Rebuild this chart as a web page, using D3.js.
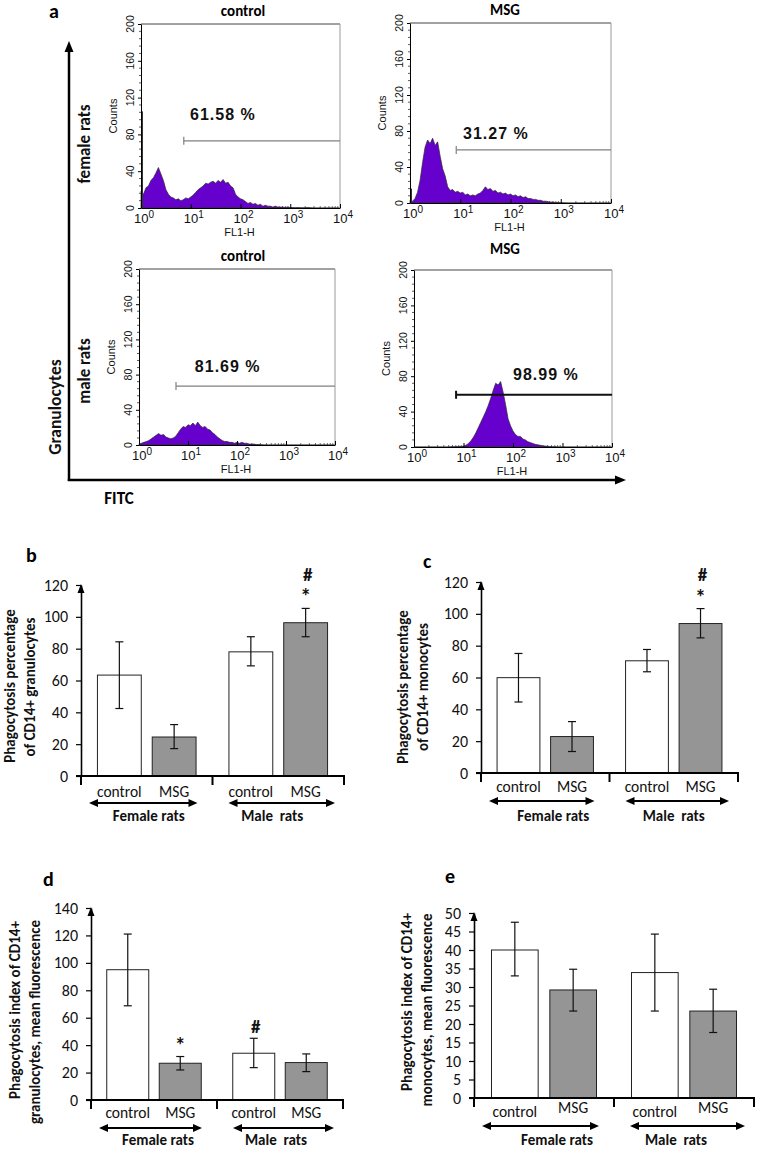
<!DOCTYPE html>
<html><head><meta charset="utf-8">
<script src="https://cdn.jsdelivr.net/npm/d3@7"></script>
<style>body{margin:0;background:#fff}svg{display:block}</style>
</head><body>
<svg id="chart" width="757" height="1150"></svg>
<script>
// ================= DATA =================
// Panel a: flow-cytometry histograms (FL1-H, log scale), counts per log10 bin
const histLogBins = d3.range(81).map(i => i * 0.05);
const histFemaleControl = [18,15,22,24,30,33,38,44,37,30, 20,15,12,11,9,10,8,9,11,10,
  12,14,17,20,22,24,27,26,28,29, 27,30,28,31,27,28,24,22,15,12,
  10,9,7,5,6,4,5,3,4,2, 3,2,2,1,2,1,1,1,0.5,1,
  0.5,0.5,0.3,0.5,0.3,0.2,0.2,0.5,0.2,0.1, 0,0,0,0,0,0,0,0,0,0,0];
const histFemaleMSG = [3,2,5,12,25,45,62,70,66,72, 64,68,52,38,30,18,14,15,12,13,
  11,12,9,10,8,9,8,10,11,14, 18,15,16,13,14,11,12,10,11,9,
  10,8,9,7,8,6,7,5,5,4, 4,3,3,2,2,1.5,1,1,0.5,0.5,
  0.3,0.2,0.1,0,0,0,0,0,0,0, 0,0,0,0,0,0,0,0,0,0,0];
const histMaleControl = [1,2,3,4,5,7,9,11,13,11, 12,9,8,7,8,10,14,18,21,20,
  23,22,25,22,26,22,20,21,18,17, 14,12,9,7,5,4,4,3,3,2,
  3,2,3,2,2,1,1,1,0.5,0.5, 0.2,0,0,0,0,0,0,0,0,0,
  0,0,0,0,0,0,0,0,0,0, 0,0,0,0,0,0,0,0,0,0,0];
const histMaleMSG = [0,0,0,0,0,0,0,0,0,0, 0,0,0,0,0,0.2,0.3,0.3,0.5,0.5,
  1,2,4,7,11,16,22,28,34,40, 47,55,64,72,70,74,62,48,32,24,
  18,14,12,12,9,8,6,5,4,3, 2.5,2,1.5,1,0.8,0.5,0.3,0.2,0,0,
  0,0,0,0,0,0,0,0,0,0, 0,0,0,0,0,0,0,0,0,0,0];
const histFirstBinSpike = [105, 16, 0, 0];
const histTitles = ["control", "MSG", "control", "MSG"];
const gatePercents = ["61.58 %", "31.27 %", "81.69 %", "98.99 %"];
const gateStartLog = [0.86, 0.92, 0.755, 0.85];
const gateLevelCount = [73, 59, 67, 59];
const countTicks = [0, 40, 80, 120, 160, 200];
const decadeTicks = [1, 10, 100, 1000, 10000];
const decadeExponents = ["0", "1", "2", "3", "4"];

// Panels b-e: bar charts
const groups = ["Female rats", "Male  rats"];
const treatments = ["control", "MSG"];
// order: female control, female MSG, male control, male MSG
const granPercentMean = [63.4, 24.5, 78, 96.3];
const granPercentLo   = [42.4, 17.2, 69.2, 87.5];
const granPercentHi   = [84.3, 32.3, 87.5, 105.3];
const granPercentMarks = ["", "", "", "*#"];

const monoPercentMean = [59.9, 22.9, 70.5, 93.9];
const monoPercentLo   = [44.6, 13.5, 63.6, 84.9];
const monoPercentHi   = [75.1, 32.3, 77.6, 103.3];
const monoPercentMarks = ["", "", "", "*#"];

const granIndexMean = [95, 26.8, 34.1, 27.3];
const granIndexLo   = [68.7, 21.9, 23.6, 20.7];
const granIndexHi   = [121, 31.7, 45, 33.6];
const granIndexMarks = ["", "*", "#", ""];

const monoIndexMean = [40.0, 29.2, 33.9, 23.5];
const monoIndexLo   = [33.0, 23.5, 23.5, 17.7];
const monoIndexHi   = [47.5, 34.8, 44.3, 29.4];
const monoIndexMarks = ["", "", "", ""];

const titleB = ["Phagocytosis percentage", "of CD14+ granulocytes"];
const titleC = ["Phagocytosis percentage", "of CD14+ monocytes"];
const titleD = ["Phagocytosis index of CD14+", "granulocytes, mean fluorescence"];
const titleE = ["Phagocytosis index of CD14+", "monocytes, mean fluorescence"];

// ================= DRAWING =================
const svg = d3.select("#chart");
const SANS = "Carlito, Lato, 'Open Sans', sans-serif";
const ARIAL = "'Liberation Sans', Arial, sans-serif";

function arrowHead(g, x, y, dir, len, half) {
  let pts;
  if (dir === "up") pts = [[x, y], [x - half, y + len], [x + half, y + len]];
  if (dir === "right") pts = [[x, y], [x - len, y - half], [x - len, y + half]];
  if (dir === "left") pts = [[x, y], [x + len, y - half], [x + len, y + half]];
  g.append("path").attr("d", d3.line()(pts) + "Z").attr("fill", "#000");
}

// ---------- Panel a ----------
const ga = svg.append("g");
ga.append("text").attr("x", 49).attr("y", 18).text("a")
  .attr("font-family", SANS).attr("font-weight", "bold").attr("font-size", 20);
ga.append("line").attr("x1", 69).attr("y1", 481).attr("x2", 69).attr("y2", 50)
  .attr("stroke", "#000").attr("stroke-width", 2.5);
arrowHead(ga, 69, 41, "up", 11, 4.5);
ga.append("line").attr("x1", 67.8).attr("y1", 480).attr("x2", 616).attr("y2", 480)
  .attr("stroke", "#000").attr("stroke-width", 2.5);
arrowHead(ga, 626, 480, "right", 11, 4.5);

function vText(g, x, y, txt, size, weight, family) {
  g.append("text").attr("transform", `translate(${x},${y}) rotate(-90)`)
    .attr("text-anchor", "middle").attr("dominant-baseline", "central")
    .attr("font-family", family || SANS).attr("font-weight", weight || "normal")
    .attr("font-size", size).attr("fill", "#111").text(txt);
}
vText(ga, 84, 144, "female rats", 17, "bold");
vText(ga, 84, 371, "male rats", 17, "bold");
vText(ga, 55, 407, "Granulocytes", 17.5, "bold");
ga.append("text").attr("x", 119).attr("y", 504).attr("text-anchor", "middle")
  .attr("font-family", SANS).attr("font-weight", "bold").attr("font-size", 17).text("FITC");

const histBoxes = [
  {l: 141, r: 340, t: 24, b: 208, flDy: 28},
  {l: 410, r: 611, t: 23, b: 203, flDy: 28},
  {l: 139, r: 335, t: 269, b: 445, flDy: 28},
  {l: 414, r: 612, t: 270, b: 447, flDy: 28}
];
const histTitleX = [243, 505, 243, 505];
const histTitleY = [16, 15, 261, 254];
const pctLabelLog = [0.985, 1.055, 1.14, 2.0];
const pctLabelCount = [96, 71, 83, 76];
const histCounts = [histFemaleControl, histFemaleMSG, histMaleControl, histMaleMSG];

function drawHist(k) {
  const box = histBoxes[k];
  const g = svg.append("g");
  const x = d3.scaleLog().domain([1, 1e4]).range([box.l, box.r]);
  const y = d3.scaleLinear().domain([0, 200]).range([box.b, box.t]);
  const data = histLogBins.map((lg, i) => ({v: Math.pow(10, lg), c: histCounts[k][i]}));
  const area = d3.area().x(d => x(d.v)).y0(y(0)).y1(d => y(d.c));
  g.append("path").datum(data).attr("d", area)
    .attr("fill", "#6600cc").attr("stroke", "#2b2b2b").attr("stroke-width", 0.7);
  if (histFirstBinSpike[k] > 0) {
    g.append("line").attr("x1", x(1) + 1.5).attr("x2", x(1) + 1.5)
      .attr("y1", y(0)).attr("y2", y(histFirstBinSpike[k]))
      .attr("stroke", "#333").attr("stroke-width", 1);
  }
  // frame top/right
  g.append("line").attr("x1", box.l).attr("x2", box.r).attr("y1", box.t).attr("y2", box.t)
    .attr("stroke", "#444").attr("stroke-width", 1);
  g.append("line").attr("x1", box.r).attr("x2", box.r).attr("y1", box.t).attr("y2", box.b)
    .attr("stroke", "#999").attr("stroke-width", 1);
  // y axis
  const ya = g.append("g").attr("transform", `translate(${box.l},0)`)
    .call(d3.axisLeft(y).tickValues(countTicks).tickSize(3).tickFormat("").tickSizeOuter(0));
  ya.select(".domain").attr("stroke", "#000");
  const minorY = d3.range(0, 201, 8).filter(v => v % 40 !== 0);
  g.selectAll(".mny").data(minorY).join("line")
    .attr("x1", box.l - 2).attr("x2", box.l).attr("y1", d => y(d)).attr("y2", d => y(d))
    .attr("stroke", "#333").attr("stroke-width", 0.8);
  countTicks.forEach(v => vText(g, box.l - 11, y(v), String(v), 10.5, "normal", ARIAL));
  vText(g, box.l - 28, (box.t + box.b) / 2, "Counts", 11, "normal", ARIAL);
  // x axis
  const xa = g.append("g").attr("transform", `translate(0,${box.b})`)
    .call(d3.axisBottom(x).tickValues(decadeTicks).tickSize(-4).tickFormat("").tickSizeOuter(0));
  xa.select(".domain").attr("stroke", "#000");
  const minorX = [];
  decadeTicks.slice(0, 4).forEach(d => { for (let m = 2; m <= 9; m++) minorX.push(d * m); });
  g.selectAll(".mnx").data(minorX).join("line")
    .attr("x1", d => x(d)).attr("x2", d => x(d)).attr("y1", box.b).attr("y2", box.b - 2)
    .attr("stroke", "#333").attr("stroke-width", 0.7);
  decadeTicks.forEach((v, i) => {
    const t = g.append("text").attr("x", x(v) + 3).attr("y", box.b + 15).attr("text-anchor", "middle")
      .attr("font-family", ARIAL).attr("font-size", 13).attr("fill", "#111");
    t.append("tspan").text("10");
    t.append("tspan").attr("dy", -5).attr("font-size", 10).text(decadeExponents[i]);
  });
  g.append("text").attr("x", (box.l + box.r) / 2 - 1).attr("y", box.b + box.flDy)
    .attr("text-anchor", "middle").attr("font-family", ARIAL).attr("font-size", 11)
    .attr("fill", "#111").text("FL1-H");
  // title
  g.append("text").attr("x", histTitleX[k]).attr("y", histTitleY[k]).attr("text-anchor", "middle")
    .attr("font-family", SANS).attr("font-weight", "bold").attr("font-size", 15).text(histTitles[k]);
  // gate marker
  const gx0 = x(Math.pow(10, gateStartLog[k])), gy = y(gateLevelCount[k]);
  const dark = k === 3;
  g.append("line").attr("x1", gx0).attr("x2", box.r).attr("y1", gy).attr("y2", gy)
    .attr("stroke", dark ? "#111" : "#808080").attr("stroke-width", dark ? 2 : 1.2);
  g.append("line").attr("x1", gx0).attr("x2", gx0).attr("y1", gy - 4).attr("y2", gy + 4)
    .attr("stroke", dark ? "#111" : "#808080").attr("stroke-width", dark ? 2 : 1.2);
  g.append("text").attr("x", x(Math.pow(10, pctLabelLog[k]))).attr("y", y(pctLabelCount[k]))
    .attr("font-family", ARIAL).attr("font-weight", "bold").attr("font-size", 16)
    .attr("letter-spacing", 1).attr("fill", "#111").text(gatePercents[k]);
}
[0, 1, 2, 3].forEach(drawHist);

// ---------- Bar panels ----------
function barPanel(letter, cfg, title, mean, lo, hi, marks) {
  const g = svg.append("g");
  const y = d3.scaleLinear().domain([0, cfg.max]).range([cfg.yb, cfg.yt]);
  const gx = d3.scaleBand().domain(groups).range([cfg.x0, cfg.x1]);
  const tx = d3.scaleBand().domain(treatments).range([0, gx.bandwidth()])
    .paddingInner(0.2).paddingOuter(0.3);
  const rows = mean.map((m, i) => ({
    g: groups[Math.floor(i / 2)], t: treatments[i % 2], m, lo: lo[i], hi: hi[i], mark: marks[i]
  }));
  const cx = d => gx(d.g) + tx(d.t) + tx.bandwidth() / 2;

  g.selectAll("rect.bar").data(rows).join("rect").attr("class", "bar")
    .attr("x", d => gx(d.g) + tx(d.t)).attr("width", tx.bandwidth())
    .attr("y", d => y(d.m)).attr("height", d => y(0) - y(d.m))
    .attr("fill", d => d.t === "control" ? "#ffffff" : "#959595")
    .attr("stroke", "#222").attr("stroke-width", 1);
  // error bars
  g.selectAll("line.eb").data(rows).join("line").attr("class", "eb")
    .attr("x1", cx).attr("x2", cx).attr("y1", d => y(d.lo)).attr("y2", d => y(d.hi))
    .attr("stroke", "#111").attr("stroke-width", 1.2);
  ["lo", "hi"].forEach(key => {
    g.selectAll("line.cap" + key).data(rows).join("line").attr("class", "cap" + key)
      .attr("x1", d => cx(d) - 4).attr("x2", d => cx(d) + 4)
      .attr("y1", d => y(d[key])).attr("y2", d => y(d[key]))
      .attr("stroke", "#111").attr("stroke-width", 1.2);
  });
  // significance marks
  rows.forEach(d => {
    let off = 0;
    d.mark.split("").forEach((ch, j) => {
      off += (j === 0) ? (ch === "*" ? 15 : 12) : 19;
      const cy = y(d.hi) - off;
      g.append("text").attr("x", cx(d) + (ch === "#" ? 2 : 0))
        .attr("y", ch === "*" ? cy + 11 : cy + 6.5).attr("text-anchor", "middle")
        .attr("font-family", SANS).attr("font-weight", "bold")
        .attr("font-size", ch === "*" ? 22 : 19).attr("fill", "#111").text(ch);
    });
  });
  // y axis
  const ya = g.append("g").attr("transform", `translate(${cfg.x0},0)`)
    .call(d3.axisLeft(y).tickValues(d3.range(0, cfg.max + 0.001, cfg.step))
      .tickSize(5).tickPadding(8).tickSizeOuter(0));
  ya.select(".domain").attr("stroke", "#000").attr("stroke-width", 1.6);
  ya.selectAll(".tick line").attr("stroke", "#000").attr("stroke-width", 1.2);
  ya.selectAll(".tick text").attr("font-family", SANS).attr("font-size", 16).attr("fill", "#111");
  arrowHead(g, cfg.x0, cfg.yt - 1, "up", 9, 3.5);
  // x axis
  g.append("line").attr("x1", cfg.x0 - 5).attr("x2", cfg.x1 + 1).attr("y1", cfg.yb).attr("y2", cfg.yb)
    .attr("stroke", "#000").attr("stroke-width", 2);
  const bounds = [cfg.x0, gx(groups[1]), cfg.x1];
  g.selectAll("line.xt").data(bounds).join("line").attr("class", "xt")
    .attr("x1", d => d).attr("x2", d => d).attr("y1", cfg.yb).attr("y2", cfg.yb + 9)
    .attr("stroke", "#000").attr("stroke-width", 2);
  // treatment labels
  g.selectAll("text.tl").data(rows).join("text").attr("class", "tl")
    .attr("x", cx).attr("y", d => cfg.yb + cfg.labDy + (d.t === "MSG" ? cfg.msgDy : 0))
    .attr("text-anchor", "middle").attr("font-family", SANS).attr("font-size", 15.5)
    .attr("fill", "#111").text(d => d.t);
  // group arrows & labels
  groups.forEach((grp, i) => {
    const a0 = gx(grp) + (i === 0 ? 8 : 16), a1 = gx(grp) + gx.bandwidth() - (i === 0 ? 15 : 9);
    const ay = cfg.yb + cfg.arrDy;
    g.append("line").attr("x1", a0 + 6).attr("x2", a1 - 6).attr("y1", ay).attr("y2", ay)
      .attr("stroke", "#000").attr("stroke-width", 2);
    arrowHead(g, a0, ay, "left", 9, 4);
    arrowHead(g, a1, ay, "right", 9, 4);
    g.append("text").attr("x", gx(grp) + gx.bandwidth() / 2 + cfg.grpDx[i]).attr("y", cfg.yb + cfg.grpDy)
      .attr("text-anchor", "middle").attr("font-family", SANS).attr("font-weight", "bold")
      .attr("font-size", 15).attr("fill", "#111").attr("xml:space", "preserve").text(grp);
  });
  // panel letter
  g.append("text").attr("x", cfg.letterX).attr("y", cfg.letterY).attr("font-family", SANS)
    .attr("font-weight", "bold").attr("font-size", 20).text(letter);
  // y title
  title.forEach((line, i) => vText(g, cfg.titleX[i], cfg.titleY[i], line, 15, "bold"));
}

barPanel("b", {x0: 81, x1: 344, yb: 776, yt: 585, max: 120, step: 20, letterX: 26, letterY: 562,
  titleX: [10, 30], titleY: [686, 687], labDy: 21, msgDy: 0, arrDy: 27, grpDy: 45, grpDx: [2, -6]},
  titleB, granPercentMean, granPercentLo, granPercentHi, granPercentMarks);
barPanel("c", {x0: 481, x1: 738, yb: 773, yt: 582, max: 120, step: 20, letterX: 423, letterY: 568,
  titleX: [403, 423], titleY: [687, 687], labDy: 19, msgDy: 0, arrDy: 28, grpDy: 48, grpDx: [8, 0]},
  titleC, monoPercentMean, monoPercentLo, monoPercentHi, monoPercentMarks);
barPanel("d", {x0: 91, x1: 343, yb: 1100, yt: 908, max: 140, step: 20, letterX: 43, letterY: 886,
  titleX: [15, 35], titleY: [1010, 1022], labDy: 18, msgDy: 0, arrDy: 28, grpDy: 45, grpDx: [4, -4]},
  titleD, granIndexMean, granIndexLo, granIndexHi, granIndexMarks);
barPanel("e", {x0: 474, x1: 754, yb: 1098, yt: 913, max: 50, step: 5, letterX: 445, letterY: 883,
  titleX: [407, 427], titleY: [1002, 1010], labDy: 19, msgDy: -4, arrDy: 28, grpDy: 47, grpDx: [13, -8]},
  titleE, monoIndexMean, monoIndexLo, monoIndexHi, monoIndexMarks);
</script>
</body></html>
